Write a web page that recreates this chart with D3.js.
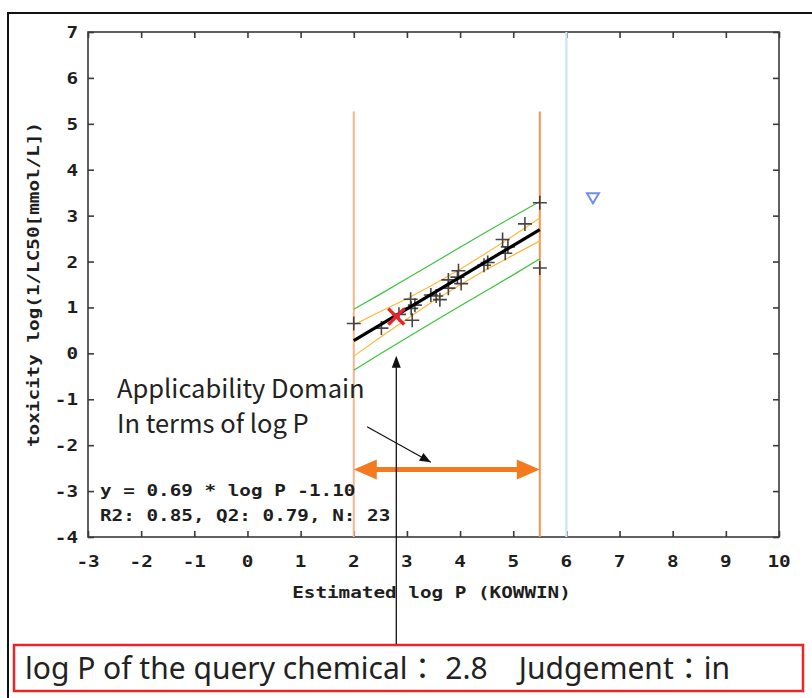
<!DOCTYPE html>
<html>
<head>
<meta charset="utf-8">
<script src="https://cdn.jsdelivr.net/npm/d3@7"></script>
<style>
  body { margin: 0; background: #fff; }
  .mono { font-family: "DejaVu Sans Mono", monospace; font-weight: bold; font-size: 16.5px; fill: #1e1e1e; }
  .sans { font-family: "Noto Sans CJK JP", "Noto Sans", sans-serif; fill: #222; white-space: pre; }
  .result { font-family: "Noto Sans", "Noto Sans CJK JP", sans-serif; fill: #222; white-space: pre; }
</style>
</head>
<body>
<svg id="chart" width="812" height="698"></svg>
<script>
// training set (estimated log P vs toxicity)
const train_logP = [2.00, 2.52, 2.85, 3.07, 3.10, 3.08, 3.15, 3.45, 3.55, 3.62, 3.78, 3.78,
                    3.97, 3.95, 4.02, 4.45, 4.52, 4.80, 4.85, 4.90, 5.22, 5.50, 5.50];
const train_tox  = [0.65, 0.55, 0.85, 1.18, 0.72, 0.98, 1.05, 1.27, 1.25, 1.17, 1.60, 1.42,
                    1.80, 1.66, 1.52, 1.92, 1.98, 2.48, 2.18, 2.32, 2.82, 3.28, 1.86];

const fit_slope = 0.69;
const fit_intercept = -1.10;

// confidence / prediction bands
const band_logP  = [2.0, 2.5, 3.0, 3.5, 4.0, 4.5, 5.0, 5.5];
const conf_upper = [0.62, 0.91, 1.19, 1.50, 1.83, 2.19, 2.56, 2.95];
const conf_lower = [-0.06, 0.35, 0.75, 1.14, 1.49, 1.83, 2.14, 2.45];
const pred_upper = [0.96, 1.29, 1.63, 1.97, 2.31, 2.65, 2.98, 3.31];
const pred_lower = [-0.37, -0.01, 0.34, 0.69, 1.03, 1.37, 1.71, 2.06];

// applicability domain
const ad_range = [2.0, 5.5];
const ad_top = 5.27;
const ad_arrow_y = -2.53;
const logP_limit = 6.0;

// query chemical and the out-of-range point
const query_logP = 2.8;
const query_tox = 0.8;
const out_logP = [6.5];
const out_tox = [3.4];

const x_ticks = [-3, -2, -1, 0, 1, 2, 3, 4, 5, 6, 7, 8, 9, 10];
const y_ticks = [-4, -3, -2, -1, 0, 1, 2, 3, 4, 5, 6, 7];

const eq_lines = ['y = 0.69 * log P -1.10', 'R2: 0.85, Q2: 0.79, N: 23'];
const note_lines = ['Applicability Domain', 'In terms of log P'];
const result_text = 'log P of the query chemical： 2.8    Judgement：in';

const svg = d3.select('#chart');

const x = d3.scaleLinear().domain([-3, 10]).range([88, 779]);
const y = d3.scaleLinear().domain([-4, 7]).range([537, 32]);

const mono_sx = 1.17;

// outer frame of the screenshot
svg.append('path')
  .attr('d', 'M8,698V13H812')
  .attr('fill', 'none')
  .attr('stroke', '#111')
  .attr('stroke-width', 2);

// plot box
svg.append('rect')
  .attr('x', x.range()[0]).attr('y', y.range()[1])
  .attr('width', x.range()[1] - x.range()[0])
  .attr('height', y.range()[0] - y.range()[1])
  .attr('fill', 'none')
  .attr('stroke', '#3a3a3a')
  .attr('stroke-width', 1.6);

// inward ticks on all sides
const tick_len = 6;
function ticks(axis, scale, pos) {
  const g = svg.append('g').call(axis(scale).tickValues(pos).tickSize(tick_len).tickFormat(''));
  g.select('.domain').remove();
  g.selectAll('line').attr('stroke', '#3a3a3a').attr('stroke-width', 1.6);
  return g;
}
ticks(d3.axisTop, x, x_ticks).attr('transform', 'translate(0,' + y.range()[0] + ')');
ticks(d3.axisBottom, x, x_ticks).attr('transform', 'translate(0,' + y.range()[1] + ')');
ticks(d3.axisRight, y, y_ticks).attr('transform', 'translate(' + x.range()[0] + ',0)');
ticks(d3.axisLeft, y, y_ticks).attr('transform', 'translate(' + x.range()[1] + ',0)');

// tick labels (wide bitmap-like font)
svg.append('g').selectAll('text')
  .data(x_ticks).enter().append('text')
  .attr('class', 'mono')
  .attr('text-anchor', 'middle')
  .attr('transform', (d) => 'translate(' + x(d) + ',' + (y.range()[0] + 30) + ') scale(' + mono_sx + ',1)')
  .text((d) => d);

svg.append('g').selectAll('text')
  .data(y_ticks).enter().append('text')
  .attr('class', 'mono')
  .attr('text-anchor', 'end')
  .attr('transform', (d) => 'translate(' + (x.range()[0] - 10) + ',' + (y(d) + 6) + ') scale(' + mono_sx + ',1)')
  .text((d) => d);

// axis titles
svg.append('text')
  .attr('class', 'mono')
  .attr('text-anchor', 'middle')
  .attr('transform', 'translate(' + ((x.range()[0] + x.range()[1]) / 2 - 2) + ',598) scale(' + mono_sx + ',1)')
  .text('Estimated log P (KOWWIN)');

svg.append('text')
  .attr('class', 'mono')
  .attr('text-anchor', 'middle')
  .attr('transform', 'translate(39,' + ((y.range()[0] + y.range()[1]) / 2) + ') rotate(-90) scale(' + mono_sx + ',1)')
  .text('toxicity log(1/LC50[mmol/L])');

// log P limit of the estimation method
svg.append('line')
  .attr('x1', x(logP_limit)).attr('x2', x(logP_limit))
  .attr('y1', y(-4)).attr('y2', y(7))
  .attr('stroke', '#cae4f0')
  .attr('stroke-width', 2.2);

// applicability domain bounds
svg.selectAll('.ad_line')
  .data(ad_range).enter().append('line')
  .attr('class', 'ad_line')
  .attr('x1', (d) => x(d)).attr('x2', (d) => x(d))
  .attr('y1', y(-4)).attr('y2', y(ad_top))
  .attr('stroke', (d, i) => i == 0 ? '#f7b48e' : '#f59450')
  .attr('stroke-width', 2);

// bands
function band_line(vals, color) {
  const line = d3.line().x((d, i) => x(band_logP[i])).y((d) => y(d));
  svg.append('path')
    .attr('d', line(vals))
    .attr('fill', 'none')
    .attr('stroke', color)
    .attr('stroke-width', 1.2);
}
band_line(pred_upper, '#3cc43c');
band_line(pred_lower, '#3cc43c');
band_line(conf_upper, '#ffb83a');
band_line(conf_lower, '#ffb83a');

// training points
svg.append('g').selectAll('path')
  .data(train_logP).enter().append('path')
  .attr('d', (d, i) => 'M' + (x(d) - 7) + ',' + y(train_tox[i]) + 'h14M' + x(d) + ',' + (y(train_tox[i]) - 7) + 'v14')
  .attr('stroke', '#333')
  .attr('stroke-width', 1.6)
  .attr('opacity', 0.9);

// regression line
svg.append('line')
  .attr('x1', x(ad_range[0])).attr('y1', y(fit_slope * ad_range[0] + fit_intercept))
  .attr('x2', x(ad_range[1])).attr('y2', y(fit_slope * ad_range[1] + fit_intercept))
  .attr('stroke', '#000')
  .attr('stroke-width', 3.2);

// query chemical
const qx = x(query_logP), qy = y(query_tox);
svg.append('path')
  .attr('d', 'M' + (qx - 8) + ',' + (qy - 8) + 'l16,16M' + (qx + 8) + ',' + (qy - 8) + 'l-16,16')
  .attr('stroke', '#e8232a')
  .attr('stroke-width', 3.5);

// out-of-domain point
svg.append('g').selectAll('path')
  .data(out_logP).enter().append('path')
  .attr('d', (d, i) => 'M' + (x(d) - 6) + ',' + (y(out_tox[i]) - 4) + 'h12l-6,10z')
  .attr('fill', 'none')
  .attr('stroke', '#6f8ff0')
  .attr('stroke-width', 2);

// equation text
svg.append('g').selectAll('text')
  .data(eq_lines).enter().append('text')
  .attr('class', 'mono')
  .attr('transform', (d, i) => 'translate(100,' + (496 + i * 25) + ') scale(' + mono_sx + ',1)')
  .text((d) => d);

// orange double arrow showing the domain
const ay = y(ad_arrow_y), ax0 = x(ad_range[0]), ax1 = x(ad_range[1]);
svg.append('line')
  .attr('x1', ax0 + 18).attr('x2', ax1 - 18)
  .attr('y1', ay).attr('y2', ay)
  .attr('stroke', '#f47a1f')
  .attr('stroke-width', 5);
svg.append('path')
  .attr('d', 'M' + ax0 + ',' + ay + 'l23,-10v20z M' + ax1 + ',' + ay + 'l-23,-10v20z')
  .attr('fill', '#f47a1f');

// annotation text and its pointer
svg.append('g').selectAll('text')
  .data(note_lines).enter().append('text')
  .attr('class', 'sans')
  .attr('x', 117)
  .attr('y', (d, i) => 398 + i * 35)
  .style('font-size', '25.5px')
  .text((d) => d);

const p0 = [x(2.25), y(-1.6)], p1 = [x(3.45), y(-2.37)];
svg.append('line')
  .attr('x1', p0[0]).attr('y1', p0[1])
  .attr('x2', p1[0]).attr('y2', p1[1])
  .attr('stroke', '#111')
  .attr('stroke-width', 1.2);
const ang = Math.atan2(p1[1] - p0[1], p1[0] - p0[0]) * 180 / Math.PI;
svg.append('path')
  .attr('transform', 'translate(' + p1[0] + ',' + p1[1] + ') rotate(' + ang + ')')
  .attr('d', 'M0,0l-11,-4.5v9z')
  .attr('fill', '#111');

// result box
const box = { x: 14, y: 645, w: 789, h: 46 };
svg.append('rect')
  .attr('x', box.x).attr('y', box.y)
  .attr('width', box.w).attr('height', box.h)
  .attr('fill', '#fff')
  .attr('stroke', '#e8262a')
  .attr('stroke-width', 2.5);
svg.append('text')
  .attr('class', 'result')
  .attr('x', box.x + 11)
  .attr('y', box.y + 34)
  .style('font-size', '30px')
  .text(result_text);

// vertical pointer from the result box to the query chemical
const vx = x(query_logP);
svg.append('line')
  .attr('x1', vx).attr('x2', vx)
  .attr('y1', box.y - 1).attr('y2', y(-0.05) + 10)
  .attr('stroke', '#111')
  .attr('stroke-width', 1.3);
svg.append('path')
  .attr('d', 'M' + vx + ',' + y(-0.05) + 'l-4.5,12h9z')
  .attr('fill', '#111');
</script>
</body>
</html>
